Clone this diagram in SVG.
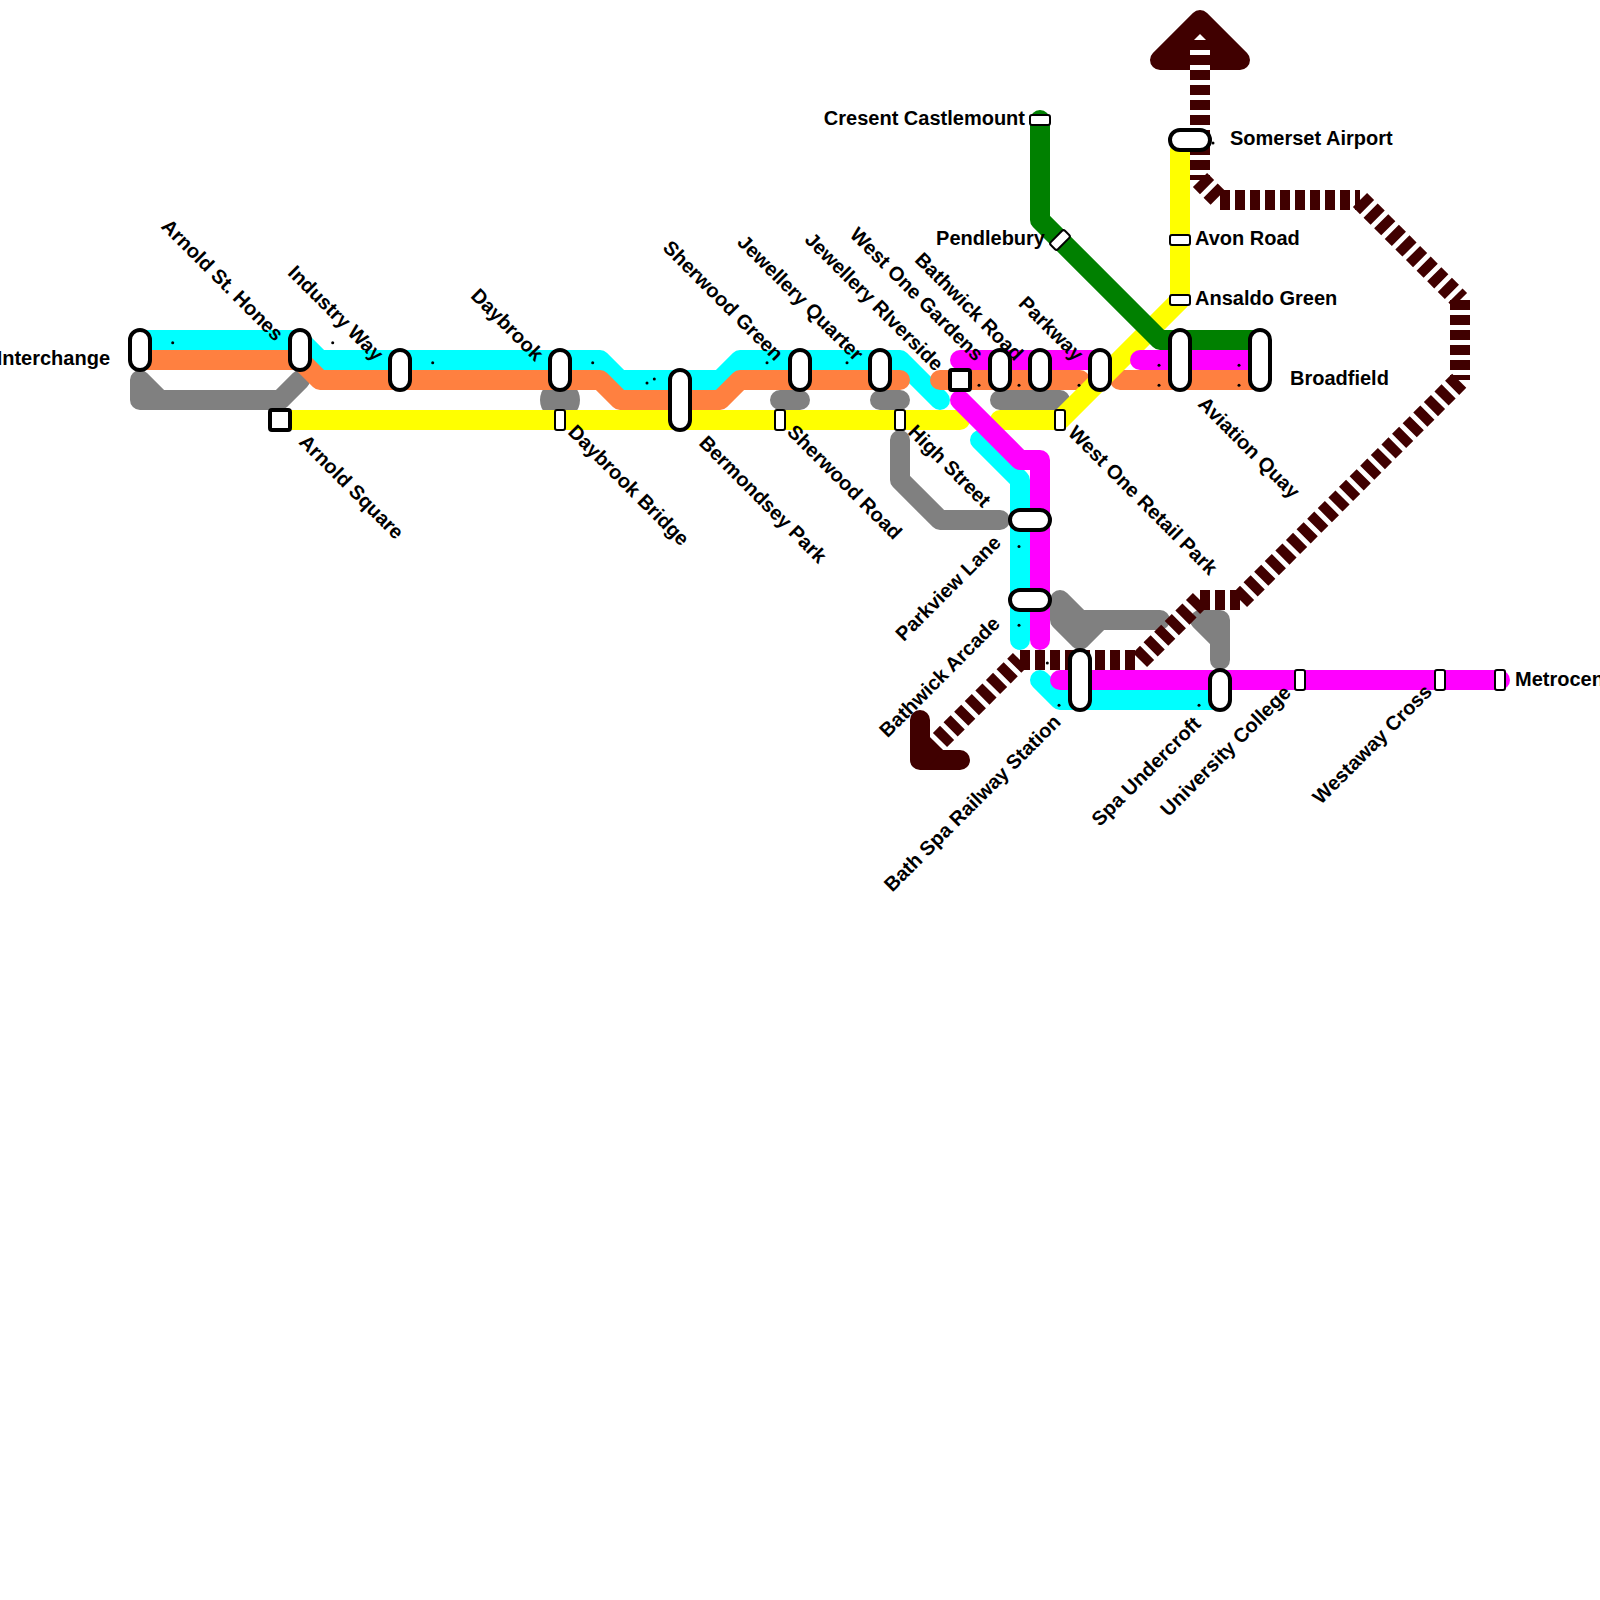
<svg xmlns="http://www.w3.org/2000/svg" width="1600" height="1600" viewBox="0 0 1600 1600">
<style>
.l{fill:none;stroke-width:20;stroke-linecap:round;stroke-linejoin:round}
.cy{stroke:#00ffff}.or{stroke:#ff8040}.ye{stroke:#ffff00}.ma{stroke:#ff00ff}.gr{stroke:#008000}.gy{stroke:#808080}
.dk{fill:none;stroke:#400000;stroke-width:20;stroke-dasharray:10 5}
.s{fill:#fff;stroke:#000;stroke-width:4}
.t{fill:#fff;stroke:#000;stroke-width:2}
text{font-family:"Liberation Sans",Arial,sans-serif;font-weight:bold;font-size:20px;fill:#000}
.e{text-anchor:end}
.d{fill:#000}
</style>
<rect width="1600" height="1600" fill="#fff"/>
<g id="connectors">
<g id="line-grey">
<path class="l gy" d="M140,380L160,400L280,400L300,380M140,380L140,400L160,400"/>
<circle cx="560" cy="400" r="20" fill="#808080"/>
<path class="l gy" d="M780,400H800M880,400H900M1000,400H1060"/>
<path class="l gy" d="M900,440V480L940,520H1000"/>
<path class="l gy" d="M1060,600L1080,620H1160M1060,600V620L1080,640L1100,620"/>
<path class="l gy" d="M1200,620L1220,640V660M1200,620H1220V640"/>
</g>
<g id="line-dark">
<path d="M1200,20L1160,60H1240Z" fill="#400000" stroke="#400000" stroke-width="20" stroke-linejoin="round"/>
<path d="M1200,34L1194,40H1206Z" fill="#fff"/>
<path d="M1200,40V180" fill="none" stroke="#fff" stroke-width="20"/>
<path class="dk" d="M1200,40V180"/>
<path class="dk" d="M1200,180L1220,200"/>
<path class="dk" d="M1220,200H1360"/>
<path class="dk" d="M1360,200L1460,300"/>
<path class="dk" d="M1460,300V380"/>
<path class="dk" d="M1240,600L1460,380"/>
<path class="dk" d="M1200,600H1240"/>
<path class="dk" d="M1140,660L1200,600"/>
<path class="dk" d="M1020,660H1140"/>
<path class="dk" d="M940,740L1020,660"/>
<path d="M920,720V760H960" fill="none" stroke="#400000" stroke-width="20" stroke-linecap="round" stroke-linejoin="round"/>
<path d="M920,760L936.5,743.5" fill="none" stroke="#400000" stroke-width="20"/>
</g>
<g id="line-cyan">
<path class="l cy" d="M140,340H300L320,360H600L620,380H720L740,360H900L940,400"/>
<path class="l cy" d="M980,440L1020,480V640"/>
<path class="l cy" d="M1040,680L1060,700H1220"/>
</g>
<g id="line-orange">
<path class="l or" d="M140,360H300L320,380H600L620,400H720L740,380H900"/>
<path class="l or" d="M940,380H1080"/>
<path class="l or" d="M1120,380H1260"/>
</g>
<g id="line-yellow">
<path class="l ye" d="M280,420H960"/>
<path class="l ye" d="M1000,420H1060L1180,300V150"/>
</g>
<g id="line-green">
<path class="l gr" d="M1040,120V220L1160,340H1260"/>
</g>
<g id="line-magenta">
<path class="l ma" d="M960,360H1100"/>
<path class="l ma" d="M1140,360H1260"/>
<path class="l ma" d="M960,400L1020,460H1040V640"/>
<path class="l ma" d="M1060,680H1500"/>
</g>
</g>
<g id="ticks">
<circle class="d" cx="172.700" cy="342.700" r="1.500"/><circle class="d" cx="332.700" cy="342.700" r="1.500"/><circle class="d" cx="432.700" cy="362.700" r="1.500"/><circle class="d" cx="592.700" cy="362.700" r="1.500"/><circle class="d" cx="654.300" cy="379" r="1.500"/><circle class="d" cx="647" cy="383" r="1.500"/><circle class="d" cx="767" cy="362.700" r="1.500"/><circle class="d" cx="847" cy="362.700" r="1.500"/><circle class="d" cx="979" cy="385.300" r="1.500"/><circle class="d" cx="1019" cy="385.300" r="1.500"/><circle class="d" cx="1079" cy="385.300" r="1.500"/><circle class="d" cx="1159" cy="365.300" r="1.500"/><circle class="d" cx="1159" cy="385.300" r="1.500"/><circle class="d" cx="1239" cy="365.300" r="1.500"/><circle class="d" cx="1239" cy="385.300" r="1.500"/><circle class="d" cx="1019" cy="546.500" r="1.500"/><circle class="d" cx="1019" cy="625.300" r="1.500"/><circle class="d" cx="1047.300" cy="663" r="1.500"/><circle class="d" cx="1059" cy="705.300" r="1.500"/><circle class="d" cx="1199" cy="705.300" r="1.500"/><circle class="d" cx="1213" cy="143" r="1.500"/>
</g>
<g id="n-interchange"><rect class="s" x="130" y="330" width="20" height="40" rx="10"/><text class="e" x="110" y="365">Interchange</text></g>
<g id="n-arnold-st-hones"><rect class="s" x="290" y="330" width="20" height="40" rx="10"/><text class="e" transform="translate(275,342) rotate(45)">Arnold St. Hones</text></g>
<g id="n-industry-way"><rect class="s" x="390" y="350" width="20" height="40" rx="10"/><text class="e" transform="translate(375,362) rotate(45)">Industry Way</text></g>
<g id="n-daybrook"><rect class="s" x="550" y="350" width="20" height="40" rx="10"/><text class="e" transform="translate(535,362) rotate(45)">Daybrook</text></g>
<g id="n-bermondsey-park"><rect class="s" x="670" y="370" width="20" height="60" rx="10"/><text transform="translate(698,444) rotate(45)">Bermondsey Park</text></g>
<g id="n-sherwood-green"><rect class="s" x="790" y="350" width="20" height="40" rx="10"/><text class="e" transform="translate(775,362) rotate(45)">Sherwood Green</text></g>
<g id="n-jewellery-quarter"><rect class="s" x="870" y="350" width="20" height="40" rx="10"/><text class="e" transform="translate(855,362) rotate(45)">Jewellery Quarter</text></g>
<g id="n-jewellery-riverside"><rect class="s" x="950" y="370" width="20" height="20" rx="2"/><text class="e" transform="translate(935,372) rotate(45)">Jewellery RIverside</text></g>
<g id="n-west-one-gardens"><rect class="s" x="990" y="350" width="20" height="40" rx="10"/><text class="e" transform="translate(975,362) rotate(45)">West One Gardens</text></g>
<g id="n-bathwick-road"><rect class="s" x="1030" y="350" width="20" height="40" rx="10"/><text class="e" transform="translate(1015,362) rotate(45)">Bathwick Road</text></g>
<g id="n-parkway"><rect class="s" x="1090" y="350" width="20" height="40" rx="10"/><text class="e" transform="translate(1075,362) rotate(45)">Parkway</text></g>
<g id="n-aviation-quay"><rect class="s" x="1170" y="330" width="20" height="60" rx="10"/><text transform="translate(1197,405) rotate(45)">Aviation Quay</text></g>
<g id="n-broadfield"><rect class="s" x="1250" y="330" width="20" height="60" rx="10"/><text x="1290" y="385">Broadfield</text></g>
<g id="n-arnold-square"><rect class="s" x="270" y="410" width="20" height="20" rx="2"/><text transform="translate(298,443) rotate(45)">Arnold Square</text></g>
<g id="n-daybrook-bridge"><rect class="t" x="555" y="410" width="10" height="20" rx="2"/><text transform="translate(567,433) rotate(45)">Daybrook Bridge</text></g>
<g id="n-sherwood-road"><rect class="t" x="775" y="410" width="10" height="20" rx="2"/><text transform="translate(786,433) rotate(45)">Sherwood Road</text></g>
<g id="n-high-street"><rect class="t" x="895" y="410" width="10" height="20" rx="2"/><text transform="translate(907,433) rotate(45)">High Street</text></g>
<g id="n-west-one-retail-park"><rect class="t" x="1055" y="410" width="10" height="20" rx="2"/><text transform="translate(1067,434) rotate(45)">West One Retail Park</text></g>
<g id="n-parkview-lane"><rect class="s" x="1010" y="510" width="40" height="20" rx="10"/><text class="e" transform="translate(1002,544) rotate(-45)">Parkview Lane</text></g>
<g id="n-bathwick-arcade"><rect class="s" x="1010" y="590" width="40" height="20" rx="10"/><text class="e" transform="translate(1001,625) rotate(-45)">Bathwick Arcade</text></g>
<g id="n-bath-spa-railway-station"><rect class="s" x="1070" y="650" width="20" height="60" rx="10"/><text class="e" transform="translate(1062,723) rotate(-45)">Bath Spa Railway Station</text></g>
<g id="n-spa-undercroft"><rect class="s" x="1210" y="670" width="20" height="40" rx="10"/><text class="e" transform="translate(1202,725) rotate(-45)">Spa Undercroft</text></g>
<g id="n-university-college"><rect class="t" x="1295" y="670" width="10" height="20" rx="2"/><text class="e" transform="translate(1292,694) rotate(-45)">University College</text></g>
<g id="n-westaway-cross"><rect class="t" x="1435" y="670" width="10" height="20" rx="2"/><text class="e" transform="translate(1433,693) rotate(-45)">Westaway Cross</text></g>
<g id="n-metrocentre"><rect class="t" x="1495" y="670" width="10" height="20" rx="2"/><text x="1515" y="686">Metrocentre</text></g>
<g id="n-cresent-castlemount"><rect class="t" x="1030" y="115" width="20" height="10" rx="2"/><text class="e" x="1025" y="125">Cresent Castlemount</text></g>
<g id="n-pendlebury"><rect class="t" x="1050" y="235" width="20" height="10" rx="2" transform="rotate(-45 1060 240)"/><text class="e" x="1045" y="245">Pendlebury</text></g>
<g id="n-somerset-airport"><rect class="s" x="1170" y="130" width="40" height="20" rx="10"/><text x="1230" y="145">Somerset Airport</text></g>
<g id="n-avon-road"><rect class="t" x="1170" y="235" width="20" height="10" rx="2"/><text x="1195" y="245">Avon Road</text></g>
<g id="n-ansaldo-green"><rect class="t" x="1170" y="295" width="20" height="10" rx="2"/><text x="1195" y="305">Ansaldo Green</text></g>
</svg>
